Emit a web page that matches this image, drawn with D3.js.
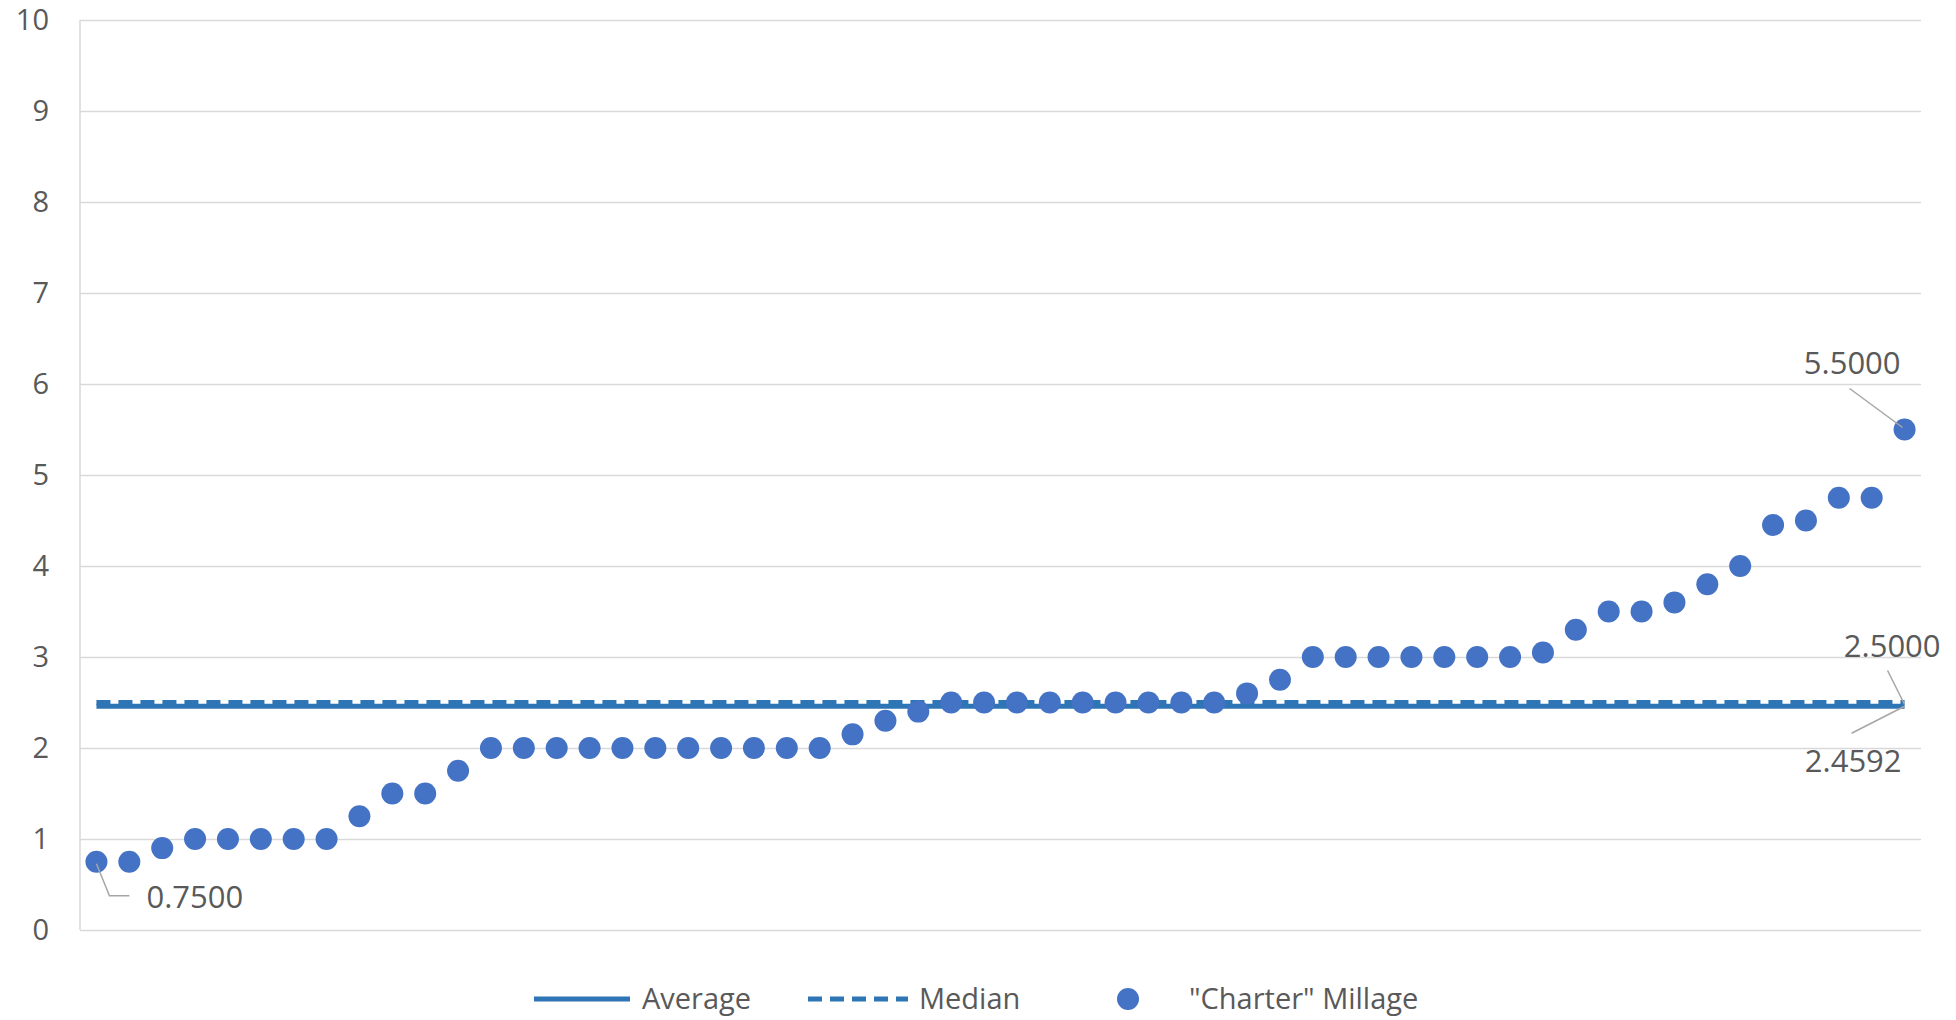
<!DOCTYPE html>
<html>
<head>
<meta charset="utf-8">
<script src="https://cdn.jsdelivr.net/npm/d3@7"></script>
<style>
  html, body { margin: 0; padding: 0; background: #ffffff; }
  svg { display: block; }
  text { font-family: "Open Sans", "Noto Sans", sans-serif; fill: #595959; }
</style>
</head>
<body>
<svg id="chart" width="1956" height="1020"></svg>
<script>
// "Charter" millage rates, sorted ascending
const millage = [
  0.75, 0.75, 0.9, 1, 1, 1, 1, 1, 1.25, 1.5, 1.5, 1.75,
  2, 2, 2, 2, 2, 2, 2, 2, 2, 2, 2,
  2.15, 2.3, 2.4,
  2.5, 2.5, 2.5, 2.5, 2.5, 2.5, 2.5, 2.5, 2.5,
  2.6, 2.75,
  3, 3, 3, 3, 3, 3, 3,
  3.05, 3.3, 3.5, 3.5, 3.6, 3.8, 4, 4.45, 4.5, 4.75, 4.75, 5.5
];
const categories = millage.map((_, i) => i + 1);
const averageValue = 2.4592;
const medianValue = 2.5;
const yTicks = [0, 1, 2, 3, 4, 5, 6, 7, 8, 9, 10];
const legendLabels = ["Average", "Median", "\"Charter\" Millage"];

const lineColor = "#2E75B6";
const dotColor = "#4472C4";
const fmt = d3.format(".4f");

const svg = d3.select("#chart");
const plotLeft = 80, plotRight = 1921, plotTop = 20, plotBottom = 930;

const x = d3.scalePoint().domain(categories).range([plotLeft, plotRight]).padding(0.5);
const y = d3.scaleLinear().domain([0, 10]).range([plotBottom, plotTop]);

// gridlines + tick labels
const yAxis = svg.append("g")
  .attr("transform", `translate(${plotLeft},0)`)
  .call(d3.axisLeft(y).tickValues(yTicks).tickSize(-(plotRight - plotLeft)).tickPadding(31).tickFormat(d3.format("d")));
yAxis.select(".domain").remove();
yAxis.selectAll(".tick line").attr("stroke", "#d9d9d9").attr("stroke-width", 1.5);
yAxis.selectAll(".tick text")
  .style("font-family", "'Open Sans', sans-serif")
  .style("font-size", "29px").attr("fill", "#595959");

// vertical axis line
svg.append("line")
  .attr("x1", plotLeft).attr("x2", plotLeft).attr("y1", plotTop).attr("y2", plotBottom)
  .attr("stroke", "#d9d9d9").attr("stroke-width", 1.5);

// average and median reference series
const flat = v => d3.line().x(d => x(d)).y(() => y(v))(categories);
svg.append("path").attr("d", flat(averageValue))
  .attr("fill", "none").attr("stroke", lineColor).attr("stroke-width", 5);
svg.append("path").attr("d", flat(medianValue))
  .attr("fill", "none").attr("stroke", lineColor).attr("stroke-width", 5)
  .attr("stroke-dasharray", "14,8");

// millage points
svg.append("g").selectAll("circle").data(millage).join("circle")
  .attr("cx", (d, i) => x(categories[i]))
  .attr("cy", d => y(d))
  .attr("r", 11)
  .attr("fill", dotColor);

// data labels with leader lines
const lastCat = categories[categories.length - 1];
const firstCat = categories[0];
const labels = [
  { value: millage[0], cx: x(firstCat), cy: y(millage[0]),
    path: [[0, 2], [13, 34], [33, 34]], tx: 50, ty: 46, anchor: "start" },
  { value: millage[millage.length - 1], cx: x(lastCat), cy: y(millage[millage.length - 1]),
    path: [[-2, -2], [-55, -41]], tx: -4, ty: -56, anchor: "end" },
  { value: medianValue, cx: x(lastCat), cy: y(medianValue),
    path: [[0, 2], [-17, -32]], tx: 36, ty: -46, anchor: "end" },
  { value: averageValue, cx: x(lastCat), cy: y(averageValue),
    path: [[0, 0], [-53, 27]], tx: -3, ty: 66, anchor: "end" }
];
labels.forEach(l => {
  svg.append("path")
    .attr("d", d3.line()(l.path.map(p => [l.cx + p[0], l.cy + p[1]])))
    .attr("fill", "none").attr("stroke", "#a6a6a6").attr("stroke-width", 1.5);
  svg.append("text")
    .attr("x", l.cx + l.tx).attr("y", l.cy + l.ty)
    .attr("text-anchor", l.anchor)
    .style("font-size", "31px")
    .text(fmt(l.value));
});

// legend
const ly = 999;
const legend = svg.append("g");
legend.append("line").attr("x1", 534).attr("x2", 630).attr("y1", ly).attr("y2", ly)
  .attr("stroke", lineColor).attr("stroke-width", 5);
legend.append("text").attr("x", 642).attr("y", ly).attr("dy", "0.36em")
  .style("font-size", "29px").text(legendLabels[0]);
legend.append("line").attr("x1", 808).attr("x2", 908).attr("y1", ly).attr("y2", ly)
  .attr("stroke", lineColor).attr("stroke-width", 5).attr("stroke-dasharray", "14,8");
legend.append("text").attr("x", 919).attr("y", ly).attr("dy", "0.36em")
  .style("font-size", "29px").text(legendLabels[1]);
legend.append("circle").attr("cx", 1128).attr("cy", ly).attr("r", 11).attr("fill", dotColor);
legend.append("text").attr("x", 1189).attr("y", ly).attr("dy", "0.36em")
  .style("font-size", "29px").text(legendLabels[2]);
</script>
</body>
</html>
